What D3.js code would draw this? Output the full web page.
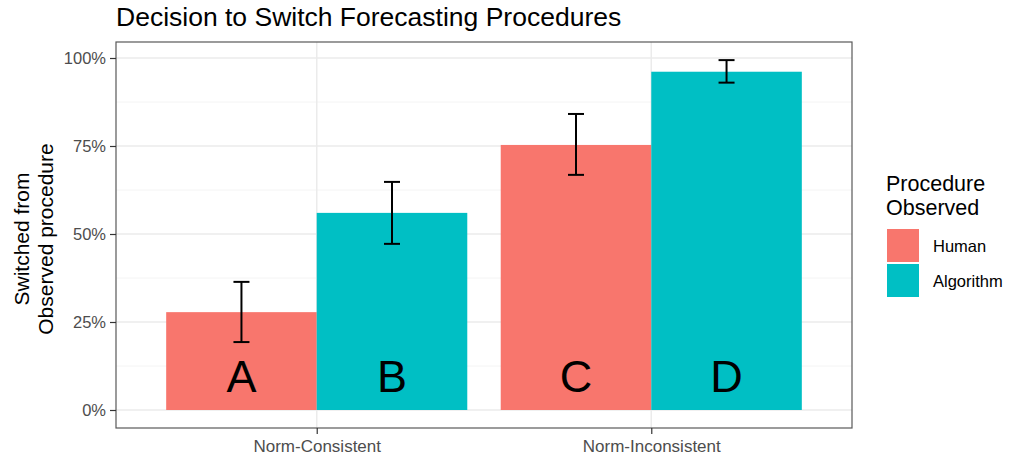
<!DOCTYPE html>
<html>
<head>
<meta charset="utf-8">
<script src="https://cdn.jsdelivr.net/npm/d3@7"></script>
<style>
  body { margin: 0; background: #fff; }
  text { font-family: "Liberation Sans", Arial, sans-serif; }
</style>
</head>
<body>
<div id="chart"></div>
<script>
// data
const norms = ["Norm-Consistent", "Norm-Inconsistent"];
const procedures = ["Human", "Algorithm"];
const letters = [["A", "B"], ["C", "D"]];
const switched = [[0.278, 0.56], [0.753, 0.961]];
const errLow = [[0.193, 0.472], [0.668, 0.93]];
const errHigh = [[0.364, 0.648], [0.841, 0.994]];
const yTicks = [0, 0.25, 0.5, 0.75, 1];

const W = 1010, H = 459;
const panel = { left: 116, right: 852, top: 42, bottom: 428 };
const colors = ["#F8766D", "#00BFC4"];

const svg = d3.select("#chart").append("svg")
    .attr("width", W)
    .attr("height", H);

// ggplot style discrete axis: 0.6 units of padding each side
let x = d3.scaleLinear()
    .domain([0.4, norms.length + 0.6])
    .range([panel.left, panel.right]);

let y = d3.scaleLinear()
    .domain([0, 1])
    .range([410, 58]);

let g = svg.append("g");

// panel background + grid
g.append("rect")
    .attr("x", panel.left).attr("y", panel.top)
    .attr("width", panel.right - panel.left)
    .attr("height", panel.bottom - panel.top)
    .attr("fill", "#fff");

let minor = d3.range(0.125, 1, 0.25);
g.selectAll(".minor")
    .data(minor)
    .enter()
    .append("line")
    .attr("x1", panel.left).attr("x2", panel.right)
    .attr("y1", d => y(d)).attr("y2", d => y(d))
    .attr("stroke", "#f4f4f4").attr("stroke-width", 1);

g.selectAll(".major")
    .data(yTicks)
    .enter()
    .append("line")
    .attr("x1", panel.left).attr("x2", panel.right)
    .attr("y1", d => y(d)).attr("y2", d => y(d))
    .attr("stroke", "#ebebeb").attr("stroke-width", 1.5);

g.selectAll(".vmajor")
    .data(norms)
    .enter()
    .append("line")
    .attr("x1", (d, i) => x(i + 1)).attr("x2", (d, i) => x(i + 1))
    .attr("y1", panel.top).attr("y2", panel.bottom)
    .attr("stroke", "#ebebeb").attr("stroke-width", 1.5);

// bars
let unit = x(2) - x(1);
let barW = unit * 0.9 / procedures.length;

let groups = g.selectAll(".grp")
    .data(norms)
    .enter()
    .append("g")
    .attr("class", "grp");

groups.each(function (d, i) {
    let grp = d3.select(this);
    procedures.forEach((p, j) => {
        let x0 = x(i + 1) - unit * 0.45 + j * barW;
        let cx = x0 + barW / 2;
        grp.append("rect")
            .attr("x", x0)
            .attr("y", y(switched[i][j]))
            .attr("width", barW)
            .attr("height", y(0) - y(switched[i][j]))
            .attr("fill", colors[j]);

        grp.append("text")
            .attr("x", cx)
            .attr("y", 392)
            .attr("text-anchor", "middle")
            .style("font-size", "45px")
            .attr("fill", "#000")
            .text(letters[i][j]);

        // error bar
        let cap = 8;
        grp.append("line")
            .attr("x1", cx).attr("x2", cx)
            .attr("y1", y(errLow[i][j])).attr("y2", y(errHigh[i][j]))
            .attr("stroke", "#000").attr("stroke-width", 2);
        [errLow[i][j], errHigh[i][j]].forEach(v => {
            grp.append("line")
                .attr("x1", cx - cap).attr("x2", cx + cap)
                .attr("y1", y(v)).attr("y2", y(v))
                .attr("stroke", "#000").attr("stroke-width", 2);
        });
    });
});

// panel border
g.append("rect")
    .attr("x", panel.left).attr("y", panel.top)
    .attr("width", panel.right - panel.left)
    .attr("height", panel.bottom - panel.top)
    .attr("fill", "none")
    .attr("stroke", "#595959").attr("stroke-width", 1.2);

// y axis
let yAxis = g.append("g")
    .attr("transform", "translate(" + panel.left + ",0)")
    .call(d3.axisLeft(y).tickValues(yTicks).tickFormat(d3.format(".0%")).tickSize(6).tickPadding(4));
yAxis.select(".domain").remove();
yAxis.selectAll("line").attr("stroke", "#333").attr("stroke-width", 1.2);
yAxis.selectAll("text").attr("fill", "#4d4d4d").style("font-size", "16.5px")
    .style("font-family", "'Liberation Sans', Arial, sans-serif");

// x axis
let xAxis = g.append("g")
    .attr("transform", "translate(0," + panel.bottom + ")")
    .call(d3.axisBottom(x).tickValues([1, 2]).tickFormat(d => norms[d - 1]).tickSize(6).tickPadding(6));
xAxis.select(".domain").remove();
xAxis.selectAll("line").attr("stroke", "#333").attr("stroke-width", 1.2);
xAxis.selectAll("text").attr("fill", "#4d4d4d").style("font-size", "17px")
    .style("font-family", "'Liberation Sans', Arial, sans-serif");

// title
svg.append("text")
    .attr("x", panel.left)
    .attr("y", 26)
    .style("font-size", "26.5px")
    .attr("fill", "#000")
    .text("Decision to Switch Forecasting Procedures");

// y title
let yMid = (panel.top + panel.bottom) / 2 + 4;
let yt = svg.append("text")
    .attr("transform", "translate(0," + yMid + ") rotate(-90)")
    .attr("text-anchor", "middle")
    .style("font-size", "21px")
    .attr("fill", "#000");
yt.append("tspan").attr("x", 0).attr("y", 29).text("Switched from");
yt.append("tspan").attr("x", 0).attr("y", 53).text("Observed procedure");

// legend
let leg = svg.append("g").attr("transform", "translate(886,0)");
leg.append("text").attr("x", 0).attr("y", 191).style("font-size", "21.5px").text("Procedure");
leg.append("text").attr("x", 0).attr("y", 215).style("font-size", "21.5px").text("Observed");

let keys = leg.selectAll(".key")
    .data(procedures)
    .enter()
    .append("g")
    .attr("transform", (d, i) => "translate(0," + (229 + i * 35) + ")");
keys.append("rect")
    .attr("x", 1).attr("y", 0)
    .attr("width", 32).attr("height", 33)
    .attr("fill", (d, i) => colors[i]);
keys.append("text")
    .attr("x", 47).attr("y", 17)
    .attr("dy", "0.35em")
    .style("font-size", "16.5px")
    .attr("fill", "#000")
    .text(d => d);
</script>
</body>
</html>
